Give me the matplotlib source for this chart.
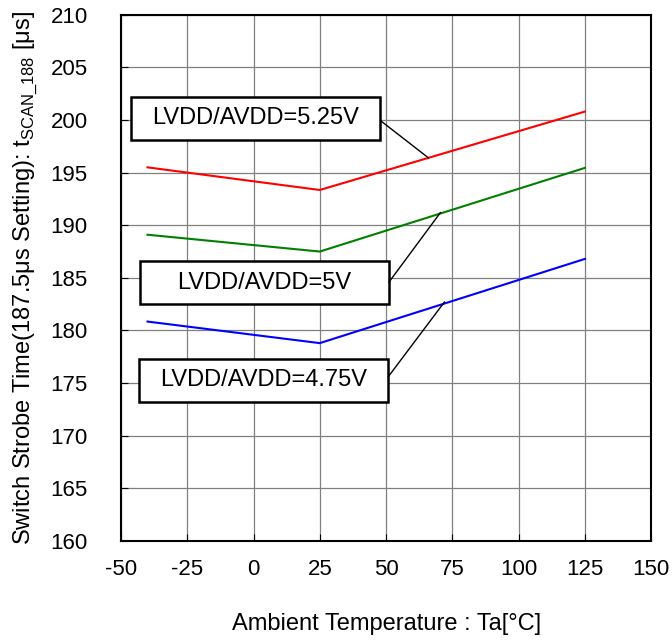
import matplotlib
matplotlib.use("Agg")
import matplotlib.pyplot as plt
from matplotlib.patches import Rectangle

plt.rcParams['font.family'] = ['Liberation Sans', 'DejaVu Sans']
plt.rcParams['mathtext.fontset'] = 'custom'
plt.rcParams['mathtext.rm'] = 'Liberation Sans'
plt.rcParams['axes.unicode_minus'] = False

temps = [-40, 25, 125]
v525 = [195.5, 193.35, 200.8]
v500 = [189.1, 187.5, 195.45]
v475 = [180.85, 178.8, 186.8]

labels = ["LVDD/AVDD=5.25V", "LVDD/AVDD=5V", "LVDD/AVDD=4.75V"]
colors = ["#ff0000", "#008000", "#0000ff"]

xticks = [-50, -25, 0, 25, 50, 75, 100, 125, 150]
yticks = [160, 165, 170, 175, 180, 185, 190, 195, 200, 205, 210]

# label boxes: (x0, y0, width, height) in data units, and leader lines
boxes = [(-46.2, 198.1, 93.9, 4.1), (-42.8, 182.5, 93.9, 4.1), (-43.2, 173.2, 93.9, 4.1)]
leaders = [((48.1, 199.9), (66.0, 196.4)),
           ((51.1, 184.6), (70.5, 191.2)),
           ((50.8, 175.6), (72.0, 182.7))]

fig = plt.figure(figsize=(6.72, 6.41), dpi=100)
ax = fig.add_axes([0.180, 0.156, 0.789, 0.821])

ax.set_xlim(-50, 150)
ax.set_ylim(160, 210)
ax.set_xticks(xticks)
ax.set_yticks(yticks)
ax.grid(True, color='#808080', lw=0.9)
ax.set_axisbelow(True)
ax.tick_params(direction='in', length=5, labelsize=16, color='black')
ax.tick_params(axis='x', pad=13)
ax.tick_params(axis='y', pad=24)
for s in ax.spines.values():
    s.set_linewidth(1.5)

for ys, c in zip([v525, v500, v475], colors):
    ax.plot(temps, ys, color=c, lw=1.5, zorder=3)

for (x0, y0, w, h), lab, (p0, p1) in zip(boxes, labels, leaders):
    ax.add_patch(Rectangle((x0, y0), w, h, facecolor='white', edgecolor='black', lw=1.8, zorder=4))
    ax.text(x0 + w / 2, y0 + h / 2, lab, ha='center', va='center', fontsize=17, zorder=5)
    ax.plot([p0[0], p1[0]], [p0[1], p1[1]], color='black', lw=1.0, zorder=4)

ax.set_xlabel("Ambient Temperature : Ta[°C]", fontsize=17, labelpad=24)
ax.set_ylabel(r"Switch Strobe Time(187.5μs Setting): t$_{\mathregular{SCAN\_188}}$ [μs]", fontsize=17, labelpad=8)

fig.savefig("out.png", dpi=100)
